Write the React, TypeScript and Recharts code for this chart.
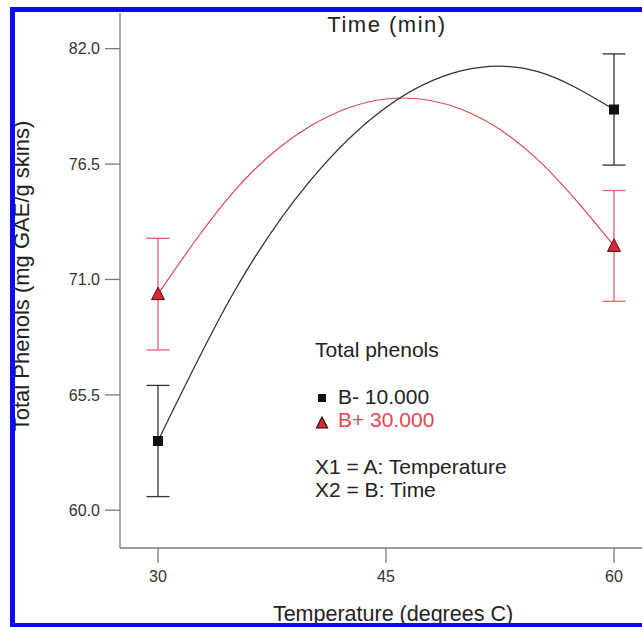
import React from "react";
import {
  ComposedChart,
  Line,
  Scatter,
  ErrorBar,
  XAxis,
  YAxis,
} from "recharts";

// temperature grid the fitted curves were read at
const temps = [30, 35, 40, 45, 50, 55, 60];
// B- 10.000 (black) fitted curve
const lowTimeCurve = [63.3, 70.4, 75.7, 79.2, 80.95, 80.9, 79.1];
// B+ 30.000 (red) fitted curve
const highTimeCurve = [70.3, 75.2, 78.3, 79.6, 79.1, 76.7, 72.6];

// design points with LSD bars
const pointTemps = [30, 60];
const lowTimePoints = [63.3, 79.1];
const lowTimeErr = [2.65, 2.65];
const highTimePoints = [70.3, 72.6];
const highTimeErr = [2.66, 2.64];

const xTicks = [30, 45, 60];
const yTicks = [60, 65.5, 71, 76.5, 82];

const lowCurveData = temps.map((t, i) => ({ temp: t, value: lowTimeCurve[i] }));
const highCurveData = temps.map((t, i) => ({ temp: t, value: highTimeCurve[i] }));
const lowPointData = pointTemps.map((t, i) => ({ temp: t, value: lowTimePoints[i], err: lowTimeErr[i] }));
const highPointData = pointTemps.map((t, i) => ({ temp: t, value: highTimePoints[i], err: highTimeErr[i] }));

const FONT = '"Liberation Sans", Arial, sans-serif';
const RED = "#e2474f";
const DARK = "#333333";
const AXIS = "#7a7a7a";

const Square = (props: any) => {
  const { cx, cy } = props;
  return <rect x={cx - 5} y={cy - 5} width={10} height={10} fill="#111" />;
};

const Triangle = (props: any) => {
  const { cx, cy } = props;
  return (
    <polygon
      points={`${cx},${cy - 7} ${cx - 6.5},${cy + 5.5} ${cx + 6.5},${cy + 5.5}`}
      fill="#d42a38"
      stroke="#5a0a10"
      strokeWidth={1}
    />
  );
};

export default function App() {
  return (
    <div
      style={{
        position: "absolute",
        left: 0,
        top: 0,
        width: 642,
        height: 627,
        overflow: "hidden",
        background: "#fff",
        fontFamily: FONT,
      }}
    >
      <div style={{ position: "absolute", left: 0, top: 0 }}>
        <ComposedChart
          width={652}
          height={627}
          margin={{ top: 13, right: 0, bottom: 0, left: 0 }}
        >
          <XAxis
            type="number"
            dataKey="temp"
            domain={[27.5, 62.5]}
            ticks={xTicks}
            height={79}
            tickSize={15}
            tickMargin={8}
            stroke={AXIS}
            strokeWidth={1.3}
            tick={{ fill: DARK, fontSize: 16, fontFamily: FONT }}
            allowDataOverflow
          />
          <YAxis
            type="number"
            dataKey="value"
            domain={[58.2, 83.7]}
            ticks={yTicks}
            width={120}
            tickSize={15}
            tickMargin={5}
            stroke={AXIS}
            strokeWidth={1.3}
            tickFormatter={(v: number) => v.toFixed(1)}
            tick={{ fill: DARK, fontSize: 16, fontFamily: FONT }}
            allowDataOverflow
          />
          <Line
            data={highCurveData}
            dataKey="value"
            type="natural"
            stroke={RED}
            strokeWidth={1.2}
            dot={false}
            activeDot={false}
            isAnimationActive={false}
          />
          <Line
            data={lowCurveData}
            dataKey="value"
            type="natural"
            stroke={DARK}
            strokeWidth={1.3}
            dot={false}
            activeDot={false}
            isAnimationActive={false}
          />
          <Scatter data={highPointData} dataKey="value" shape={Triangle} isAnimationActive={false}>
            <ErrorBar dataKey="err" direction="y" width={11.5} stroke="#e86068" strokeWidth={1.3} />
          </Scatter>
          <Scatter data={lowPointData} dataKey="value" shape={Square} isAnimationActive={false}>
            <ErrorBar dataKey="err" direction="y" width={11.5} stroke={DARK} strokeWidth={1.3} />
          </Scatter>
        </ComposedChart>
      </div>

      <svg
        width={642}
        height={627}
        style={{ position: "absolute", left: 0, top: 0, pointerEvents: "none" }}
      >
        <g fontFamily={FONT} fill="#222">
          <text x={387} y={32} fontSize={22} textAnchor="middle" letterSpacing={1.5}>
            Time (min)
          </text>
          <text
            x={29}
            y={276}
            fontSize={22}
            textAnchor="middle"
            transform="rotate(-90 29 276)"
          >
            Total Phenols (mg GAE/g skins)
          </text>
          <text x={393} y={621} fontSize={21.5} textAnchor="middle">
            Temperature (degrees C)
          </text>

          <text x={315} y={357} fontSize={21}>Total phenols</text>
          <rect x={318} y={394} width={8} height={8} fill="#111" />
          <text x={338} y={404} fontSize={21}>B- 10.000</text>
          <polygon points="322,417 316.5,428 327.5,428" fill="#d42a38" stroke="#3a0508" strokeWidth={1.2} />
          <text x={338} y={427} fontSize={21} fill={RED}>B+ 30.000</text>
          <text x={315} y={474} fontSize={21}>X1 = A: Temperature</text>
          <text x={315} y={497} fontSize={21}>X2 = B: Time</text>
        </g>
      </svg>

      <div
        style={{
          position: "absolute",
          left: 10,
          top: 7,
          width: 700,
          height: 621,
          border: "5px solid #0a0af5",
          boxSizing: "border-box",
          pointerEvents: "none",
        }}
      />
    </div>
  );
}
